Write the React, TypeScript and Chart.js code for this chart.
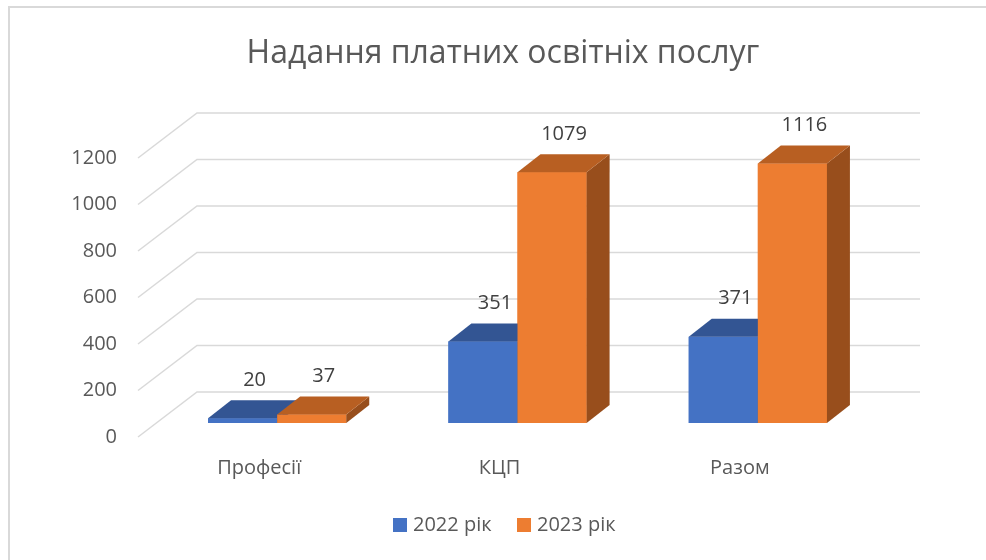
import React, { useEffect, useRef } from "react";
import { Chart, registerables } from "chart.js";

Chart.register(...registerables);

const TITLE = "Надання платних освітніх послуг";
const categories = ["Професії", "КЦП", "Разом"];
const series2022 = [20, 351, 371];
const series2023 = [37, 1079, 1116];
const seriesNames = ["2022 рік", "2023 рік"];
const yTicks = [0, 200, 400, 600, 800, 1000, 1200];

const FRONT = ["#4472C4", "#ED7D31"];
const TOP = ["#335593", "#B85F22"];
const SIDE = ["#2B4C86", "#984E1C"];
const DX = 23;
const DY = -18;
const FONT = "'Open Sans', 'Noto Sans', sans-serif";

const threeD = {
  id: "threeD",
  beforeDraw(chart: any) {
    const ctx = chart.ctx;
    ctx.save();
    ctx.fillStyle = "#ffffff";
    ctx.fillRect(0, 0, chart.width, chart.height);
    // frame
    ctx.strokeStyle = "#d9d9d9";
    ctx.lineWidth = 2;
    ctx.beginPath();
    ctx.moveTo(9, chart.height + 2);
    ctx.lineTo(9, 7);
    ctx.lineTo(chart.width + 2, 7);
    ctx.stroke();
    // title
    ctx.fillStyle = "#595959";
    ctx.font = `32px ${FONT}`;
    ctx.textAlign = "center";
    ctx.textBaseline = "middle";
    ctx.fillText(TITLE, 503, 54);
    // legend
    ctx.font = `20px ${FONT}`;
    ctx.textAlign = "left";
    const lx = [393, 517];
    seriesNames.forEach((n, i) => {
      ctx.fillStyle = FRONT[i];
      ctx.fillRect(lx[i], 518, 14, 14);
      ctx.fillStyle = "#595959";
      ctx.fillText(n, lx[i] + 20, 525);
    });
    ctx.restore();
  },
  beforeDatasetsDraw(chart: any) {
    const ctx = chart.ctx;
    const y = chart.scales.y;
    ctx.save();
    ctx.strokeStyle = "#d9d9d9";
    ctx.lineWidth = 1.5;
    yTicks.forEach((v) => {
      const py = y.getPixelForValue(v);
      ctx.beginPath();
      ctx.moveTo(138, py + 14);
      ctx.lineTo(197, py - 31);
      ctx.lineTo(920, py - 31);
      ctx.stroke();
    });
    ctx.restore();
  },
  afterDatasetsDraw(chart: any) {
    const ctx = chart.ctx;
    ctx.save();
    const n = chart.data.labels.length;
    for (let j = 0; j < n; j++) {
      chart.data.datasets.forEach((ds: any, i: number) => {
        const bar: any = chart.getDatasetMeta(i).data[j];
        const p = bar.getProps(["x", "y", "base", "width"], true);
        const l = p.x - p.width / 2;
        const r = p.x + p.width / 2;
        const t = p.y;
        const b = p.base;
        ctx.fillStyle = FRONT[i];
        ctx.fillRect(l, t, r - l, b - t);
        ctx.fillStyle = SIDE[i];
        ctx.beginPath();
        ctx.moveTo(r, t);
        ctx.lineTo(r + DX, t + DY);
        ctx.lineTo(r + DX, b + DY);
        ctx.lineTo(r, b);
        ctx.closePath();
        ctx.fill();
        ctx.fillStyle = TOP[i];
        ctx.beginPath();
        ctx.moveTo(l, t);
        ctx.lineTo(l + DX, t + DY);
        ctx.lineTo(r + DX, t + DY);
        ctx.lineTo(r, t);
        ctx.closePath();
        ctx.fill();
      });
    }
    ctx.fillStyle = "#404040";
    ctx.font = `20px ${FONT}`;
    ctx.textAlign = "center";
    ctx.textBaseline = "middle";
    chart.data.datasets.forEach((ds: any, i: number) => {
      const meta = chart.getDatasetMeta(i);
      meta.data.forEach((bar: any, j: number) => {
        const p = bar.getProps(["x", "y"], true);
        ctx.fillText(String(ds.data[j]), p.x + 12, p.y - 38);
      });
    });
    ctx.restore();
  },
};

export default function App() {
  const ref = useRef<HTMLCanvasElement>(null);
  useEffect(() => {
    document.body.style.margin = "0";
    const chart = new Chart(ref.current!, {
      type: "bar",
      data: {
        labels: categories,
        datasets: [
          { label: seriesNames[0], data: series2022, backgroundColor: FRONT[0] },
          { label: seriesNames[1], data: series2023, backgroundColor: FRONT[1] },
        ],
      },
      options: {
        animation: false,
        responsive: false,
        devicePixelRatio: 1,
        layout: { padding: { left: 0, top: 144, right: 108, bottom: 57 } },
        datasets: { bar: { categoryPercentage: 0.575, barPercentage: 1 } },
        plugins: {
          legend: { display: false },
          title: { display: false },
          tooltip: { enabled: false },
        },
        scales: {
          x: {
            grid: { display: false, drawTicks: false },
            border: { display: false },
            ticks: {
              color: "#595959",
              font: { family: FONT, size: 20 },
              padding: 33,
              labelOffset: -18,
            },
            afterFit: (s: any) => {
              s.height = 80;
            },
          },
          y: {
            min: 0,
            max: 1200,
            grid: { display: false, drawTicks: false },
            border: { display: false },
            ticks: {
              stepSize: 200,
              color: "#595959",
              font: { family: FONT, size: 20 },
              padding: 40,
              labelOffset: 14,
              callback: (v: any) => String(v),
            },
            afterFit: (s: any) => {
              s.width = 157;
            },
          },
        },
      },
      plugins: [threeD],
    });
    return () => chart.destroy();
  }, []);
  return (
    <div style={{ width: 986, height: 560 }}>
      <canvas ref={ref} width={986} height={560} style={{ width: 986, height: 560, display: "block" }} />
    </div>
  );
}
